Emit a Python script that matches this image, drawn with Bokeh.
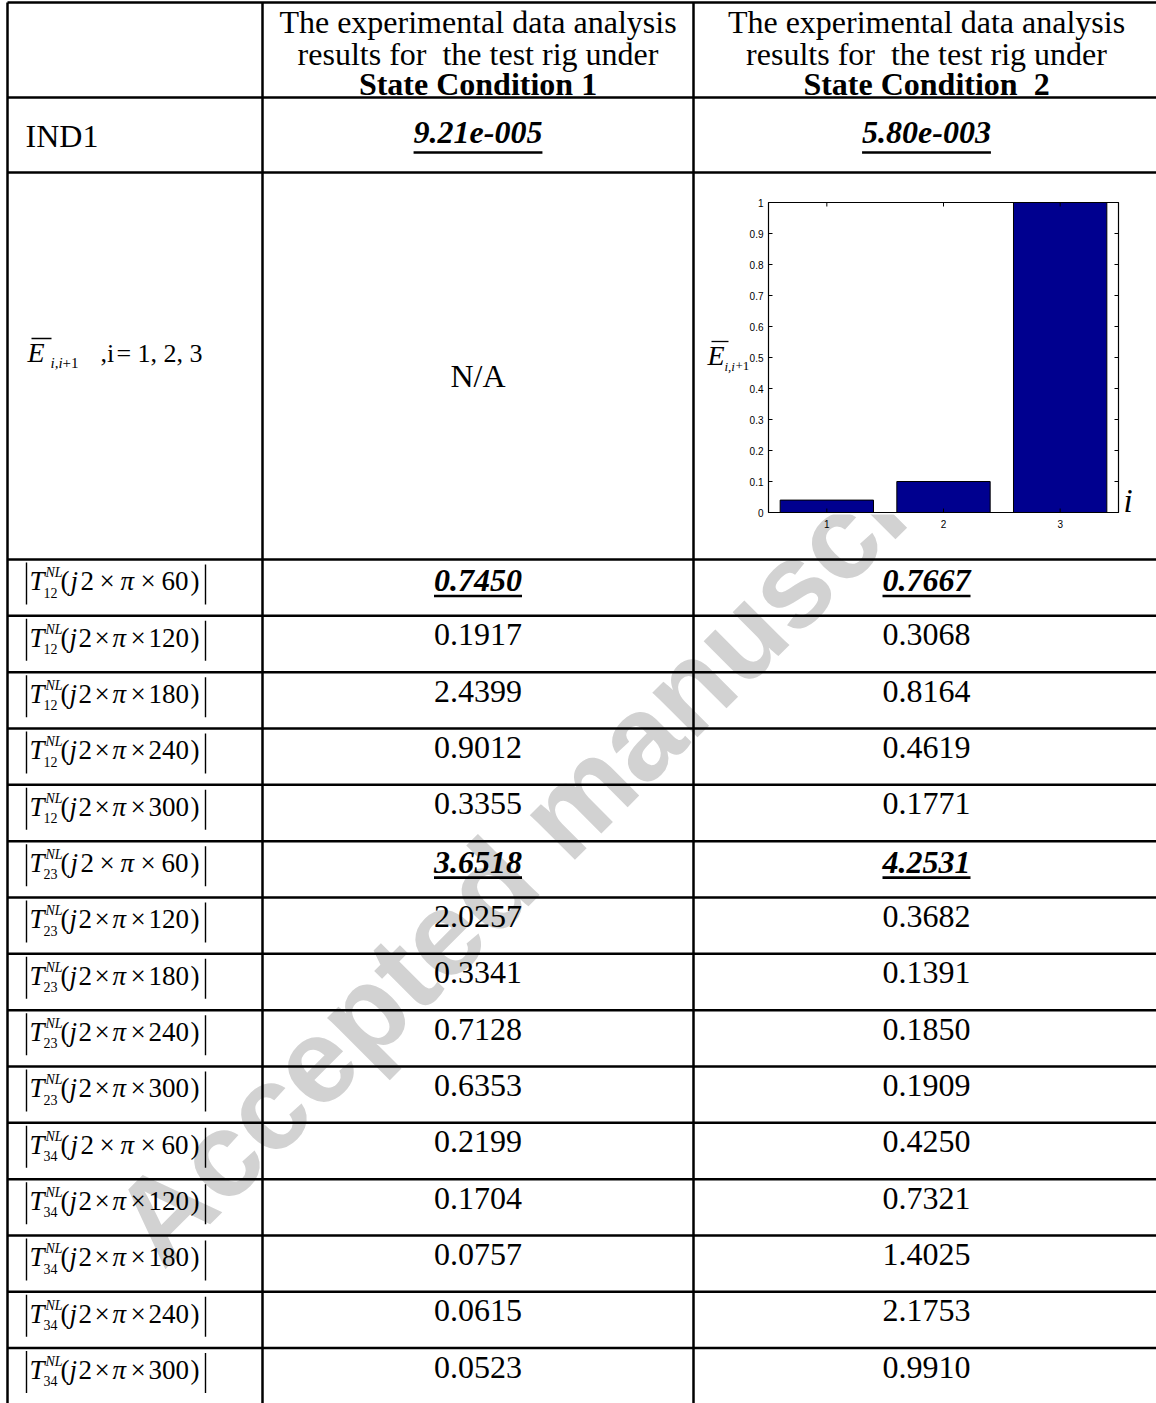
import math
from collections import defaultdict
from bokeh.plotting import figure
from bokeh.models import Range1d, ColumnDataSource
from bokeh.embed import file_html
from bokeh.resources import INLINE
from bokeh.core.properties import value

# ---------------- data ----------------
header_lines = ["The experimental data analysis", "results for  the test rig under"]
conditions = ["State Condition 1", "State Condition  2"]
ind1_label = "IND1"
ind1_values = ["9.21e-005", "5.80e-003"]
energy_cond1 = "N/A"
bar_i = [1, 2, 3]
bar_E = [0.04, 0.10, 1.00]
bar_xticks = [1, 2, 3]
bar_yticks = [0, 0.1, 0.2, 0.3, 0.4, 0.5, 0.6, 0.7, 0.8, 0.9, 1.0]
bar_ytick_labels = ["0", "0.1", "0.2", "0.3", "0.4", "0.5", "0.6", "0.7", "0.8", "0.9", "1"]
T_index = ["12"] * 5 + ["23"] * 5 + ["34"] * 5
T_freq = ["60", "120", "180", "240", "300"] * 3
cond1_values = ["0.7450", "0.1917", "2.4399", "0.9012", "0.3355",
                "3.6518", "2.0257", "0.3341", "0.7128", "0.6353",
                "0.2199", "0.1704", "0.0757", "0.0615", "0.0523"]
cond2_values = ["0.7667", "0.3068", "0.8164", "0.4619", "0.1771",
                "4.2531", "0.3682", "0.1391", "0.1850", "0.1909",
                "0.4250", "0.7321", "1.4025", "2.1753", "0.9910"]
highlight = [True, False, False, False, False, True, False, False, False, False,
             False, False, False, False, False]
watermark = "Accepted manuscript"

# ---------------- geometry (page pixels) ----------------
REF_W, REF_H = 1156, 1403
col_x = [7, 262, 693, 1159]
c1, c2 = (col_x[1] + col_x[2]) / 2, (col_x[2] + col_x[3]) / 2
row_y = [2, 97, 172, 559] + [559 + 56.33 * k for k in range(1, 16)]
SERIF = "Liberation Serif"
SANS = "Liberation Sans"
BASE_FIX = 0.34   # renderer draws alphabetic text this many em too low

p = figure(width=REF_W, height=REF_H, x_range=Range1d(0, REF_W), y_range=Range1d(REF_H, 0),
           output_backend="svg", toolbar_location=None, min_border=0,
           x_axis_type=None, y_axis_type=None)
p.grid.visible = False
p.outline_line_color = None
p.background_fill_color = "white"
p.border_fill_color = "white"

# bar-chart scales placed inside the table cell
ax_l, ax_r, ax_t, ax_b = 768, 1118, 202, 512
ku = (ax_r - ax_l) / 3.0
kv = (ax_b - ax_t) / 1.0
p.extra_x_ranges = {"bx": Range1d(0.5 - ax_l / ku, 3.5 + (REF_W - ax_r) / ku)}
p.extra_y_ranges = {"by": Range1d(0 - (REF_H - ax_b) / kv, 1 + ax_t / kv)}
B = dict(x_range_name="bx", y_range_name="by")
TXT = dict(text_line_height=1.0, text_color="black")

# watermark (behind everything)
wm_size = 120
wm_x, wm_y = 162, 1270
ang = math.radians(45)
fix = BASE_FIX * wm_size
p.text(x=[wm_x - fix * math.sin(ang)], y=[wm_y - fix * math.cos(ang)], text=[watermark], angle=ang,
       text_font=value(SANS), text_font_style="bold", text_font_size=f"{wm_size}px",
       text_color="#d2d2d2", text_align="left", text_baseline="alphabetic", text_line_height=1.0)
# opaque chart image area
p.quad(left=[697], right=[1156], top=[176], bottom=[514], fill_color="white", line_color=None)

# table lines
p.segment(x0=[col_x[0]] * len(row_y), x1=[REF_W + 10] * len(row_y), y0=row_y, y1=row_y,
          line_color="black", line_width=2.5)
p.segment(x0=col_x, x1=col_x, y0=[row_y[0]] * 4, y1=[REF_H + 10] * 4,
          line_color="black", line_width=2.5)

batches = defaultdict(lambda: dict(x=[], y=[], text=[]))


def put(x, y, s, size, font=SERIF, style="normal", align="left"):
    b = batches[(font, size, style, align)]
    b["x"].append(x)
    b["y"].append(y - BASE_FIX * size)
    b["text"].append(s.replace("  ", " \u00a0"))


BI_W = {".": 250, "e": 444, "-": 333}


def bi_width(s, size):
    return sum(BI_W.get(ch, 500) for ch in s) * size / 1000.0


def underline(cx, y, s, size):
    w = bi_width(s, size)
    p.segment(x0=[cx - w / 2], x1=[cx + w / 2], y0=[y], y1=[y], line_color="black", line_width=2.6)


def value_cell(cx, ty, s, bold):
    if bold:
        put(cx, ty + 32, s, 32, style="bold italic", align="center")
        underline(cx, ty + 36.5, s, 32)
    else:
        put(cx, ty + 30, s, 32, align="center")


# header
for cx in (c1, c2):
    put(cx, 32, header_lines[0], 32, align="center")
    put(cx, 64, header_lines[1], 32, align="center")
put(c1, 94, conditions[0], 32, style="bold", align="center")
put(c2, 94, conditions[1], 32, style="bold", align="center")

# IND1 row
put(25, 146, ind1_label, 32)
for cx, s in zip((c1, c2), ind1_values):
    put(cx, 143, s, 32, style="bold italic", align="center")
    underline(cx, 152, s, 32)

# E-bar row, first column label
put(27, 362, "E", 28, style="italic")
p.segment(x0=[31], x1=[51], y0=[338], y1=[338], line_color="black", line_width=1.3)
put(50, 368, "i,i", 15, style="italic")
put(62, 368, "+1", 15)
put(100, 362, ",i", 26)
put(116, 362, "=", 26)
put(137, 362, "1,", 26)
put(163, 362, "2,", 26)
put(189, 362, "3", 26)
put(c1, 386, energy_cond1, 32, align="center")

# bar chart
p.vbar(x=bar_i, top=bar_E, bottom=0, width=0.8, fill_color="#00008f", line_color="black",
       line_width=1, **B)
p.quad(left=[0.5], right=[3.5], bottom=[0], top=[1], fill_color=None, line_color="black",
       line_width=1.2, **B)
tl_x, tl_y = 4 / ku, 4 / kv
p.segment(x0=[0.5] * len(bar_yticks), x1=[0.5 + tl_x] * len(bar_yticks), y0=bar_yticks, y1=bar_yticks,
          line_color="black", line_width=1, **B)
p.segment(x0=[3.5] * len(bar_yticks), x1=[3.5 - tl_x] * len(bar_yticks), y0=bar_yticks, y1=bar_yticks,
          line_color="black", line_width=1, **B)
p.segment(x0=bar_xticks, x1=bar_xticks, y0=[0] * 3, y1=[tl_y] * 3, line_color="black", line_width=1, **B)
p.segment(x0=bar_xticks, x1=bar_xticks, y0=[1] * 3, y1=[1 - tl_y] * 3, line_color="black", line_width=1, **B)
p.text(x=[0.5 - 5 / ku] * len(bar_yticks), y=bar_yticks, text=bar_ytick_labels,
       text_font=value(SANS), text_font_size="10px", text_align="right", text_baseline="middle",
       **TXT, **B)
p.text(x=bar_xticks, y=[-11 / kv] * 3, text=[str(v) for v in bar_xticks],
       text_font=value(SANS), text_font_size="10px", text_align="center", text_baseline="middle",
       **TXT, **B)
p.text(x=[3.5 + 5 / ku], y=[0 + BASE_FIX * 33 / kv], text=["i"], text_font=value(SERIF),
       text_font_style="italic", text_font_size="33px", text_align="left", text_baseline="alphabetic",
       **TXT, **B)
# y label of the small chart
put(707, 365, "E", 28, style="italic")
p.segment(x0=[711], x1=[728], y0=[341], y1=[341], line_color="black", line_width=1.3)
put(724, 370, "i,i", 13, style="italic")
put(735, 370, "+1", 13)

# T rows
for k in range(15):
    ty = row_y[3 + k]
    p.segment(x0=[26, 205], x1=[26, 205], y0=[ty + 3, ty + 5], y1=[ty + 45, ty + 45],
              line_color="black", line_width=1.4)
    put(29, ty + 31, "T", 27, style="italic")
    put(45, ty + 18, "NL", 14, style="italic")
    put(43, ty + 38, T_index[k], 14)
    f = T_freq[k]
    if len(f) == 2:
        xs = [60, 70, 80, 99, 120, 140, 161, 190]
    else:
        xs = [60, 69, 78, 94, 112, 130, 148, 190]
    put(xs[0], ty + 31, "(", 27)
    put(xs[1], ty + 31, "j", 27, style="italic")
    put(xs[2], ty + 31, "2", 27)
    put(xs[3], ty + 31, "\u00d7", 27)
    put(xs[4], ty + 31, "\u03c0", 27, style="italic")
    put(xs[5], ty + 31, "\u00d7", 27)
    put(xs[6], ty + 31, f, 27)
    put(xs[7], ty + 31, ")", 27)
    value_cell(c1, ty, cond1_values[k], highlight[k])
    value_cell(c2, ty, cond2_values[k], highlight[k])

for (font, size, style, align), b in batches.items():
    p.text(x="x", y="y", text="text", source=ColumnDataSource(b), text_font=value(font),
           text_font_size=f"{size}px", text_font_style=style, text_align=align,
           text_baseline="alphabetic", **TXT)

open("out.html", "w").write(file_html(p, INLINE))
